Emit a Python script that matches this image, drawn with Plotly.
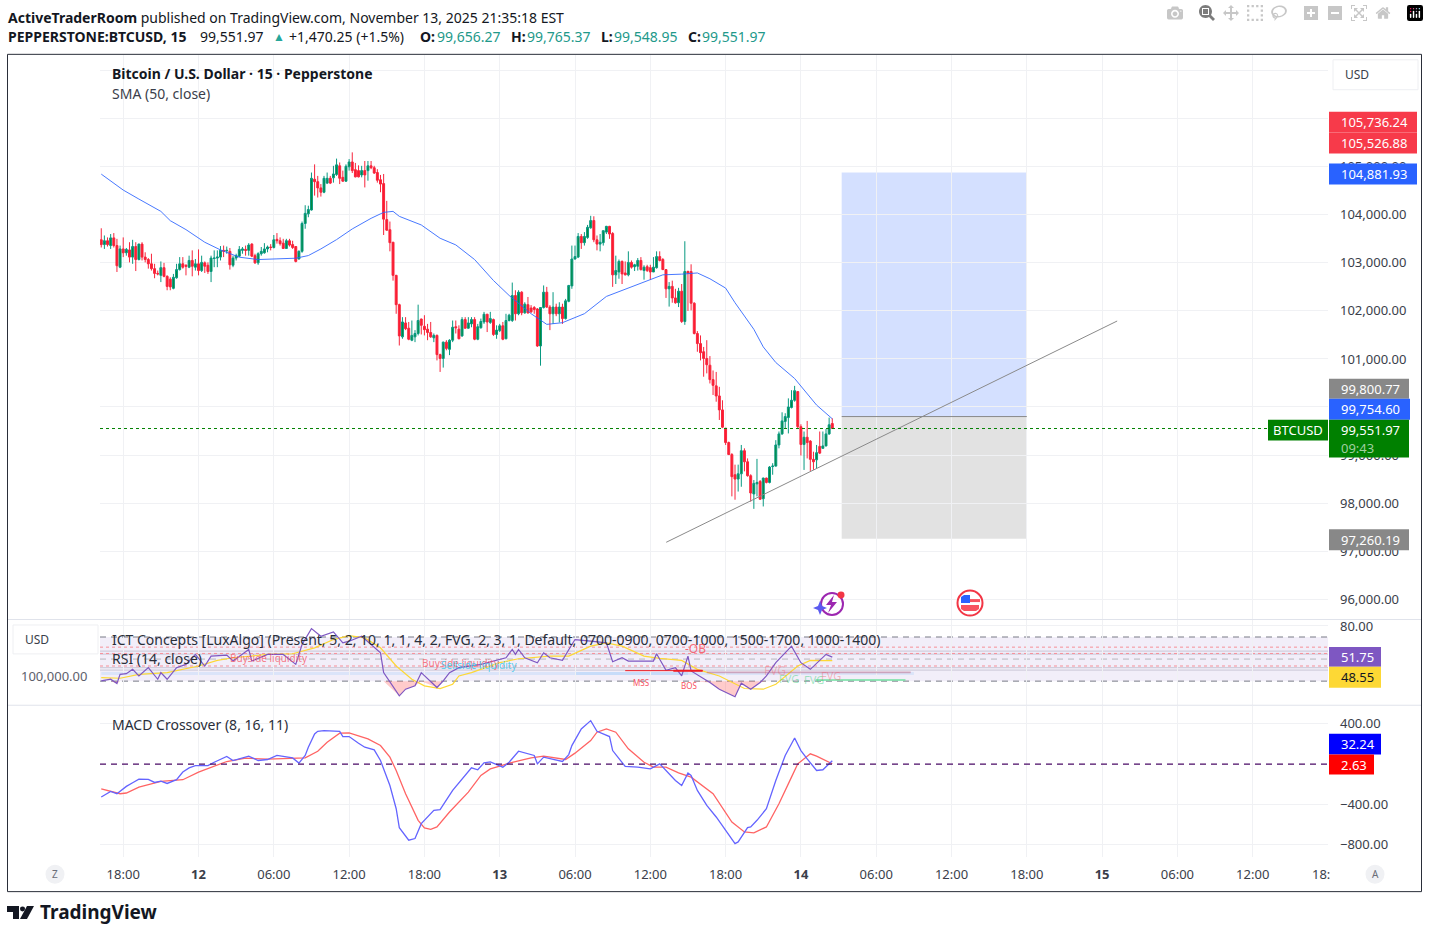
"""BTCUSD 15m TradingView snapshot: candles + SMA, RSI pane and MACD pane."""

import pandas as pd
import plotly.graph_objects as go

W, H = 1429, 935
FONT = "Noto Sans"
TEXT = "#131722"
UP_WICK, UP_BODY = "#089981", "#008a3c"
DOWN_WICK, DOWN_BODY = "#f7253c", "#ff1a2e"

# Candles, 15 minute bars
opens = [
    103480, 103380, 103460, 103360, 103520, 103360, 102910, 103290, 103210, 103270,
    103120, 103340, 103070, 103390, 103120, 103070, 102980, 102880, 102780, 102740,
    102900, 102720, 102660, 102470, 102690, 102860, 102980, 102950, 102910, 103050,
    102910, 102980, 102840, 103000, 102950, 102820, 103090, 103100, 103120, 103260, 103250,
    103240, 102950, 103100, 103140, 103260, 103280, 103260, 103390, 103150, 103000,
    103190, 103210, 103290, 103330, 103320, 103490, 103460, 103410, 103300, 103460,
    103380, 103340, 103080, 103240, 103820, 104020, 104100, 104740, 104690, 104560,
    104470, 104660, 104760, 104770, 104840, 105020, 104780, 104700, 105000, 105100,
    104940, 104920, 104830, 104920, 104920, 105020, 104980, 104880, 104730, 104650,
    103900, 103690, 103430, 102740, 102130, 101460, 101750, 101640, 101390, 101460, 101530,
    101830, 101680, 101620, 101550, 101440, 101490, 101090, 101010, 101350, 101200,
    101390, 101670, 101620, 101480, 101820, 101640, 101730, 101820, 101410, 101650,
    101770, 101930, 101760, 101820, 101510, 101590, 101690, 101420, 101800, 101800,
    102320, 101940, 102390, 101960, 102130, 102060, 102070, 102040, 101270, 102070,
    102390, 102080, 101940, 102080, 101940, 102080, 101840, 102200, 102520, 103080,
    103120, 103550, 103420, 103530, 103730, 103880, 103480, 103390, 103420, 103640,
    103760, 103610, 102750, 102810, 103030, 102790, 102750, 103010, 102920, 102930,
    103050, 102840, 102920, 102900, 102810, 102900, 103130,
    103070, 102860, 102460, 102510, 102270, 102170, 102410, 101780, 102820, 102820,
    102160, 101530, 101320, 101150, 101010, 100870, 100570, 100440, 100230, 99940,
    99560, 99260, 99010, 98590, 98500, 98610, 99090, 98860, 98570, 98190,
    98400, 98450, 98090, 98520, 98430, 98760, 98770, 99210, 99440, 99700,
    99780, 99990, 100140, 100320, 99590, 99220, 99370, 99290, 98910, 98900,
    99180, 99140, 99190, 99440, 99656.27,
]
highs = [
    103720, 103570, 103530, 103600, 103620, 103500, 103360, 103530, 103310, 103430,
    103480, 103430, 103400, 103430, 103220, 103100, 103190, 102980, 102840, 103030,
    103000, 102740, 102700, 102770, 102980, 103120, 103120, 102970, 103150, 103260,
    103080, 103280, 103150, 103030, 103010, 103150, 103260, 103260, 103350, 103360, 103340,
    103310, 103150, 103190, 103350, 103330, 103360, 103410, 103410, 103190, 103220,
    103330, 103410, 103360, 103390, 103580, 103620, 103530, 103500, 103500, 103500,
    103460, 103350, 103260, 103860, 104200, 104190, 104880, 105050, 104810, 104640,
    104810, 104880, 104810, 105020, 105170, 105090, 104920, 105050, 105160, 105300,
    105080, 105030, 105020, 105120, 105120, 105120, 105020, 104950, 104830, 104850,
    104290, 103860, 103430, 102750, 102150, 101870, 101870, 101770, 101800, 101600, 102130,
    101840, 101910, 101730, 101770, 101530, 101510, 101110, 101360, 101390, 101410,
    101800, 101800, 101700, 101870, 101870, 101870, 101870, 101870, 101730, 101840,
    101980, 101940, 101980, 101840, 101700, 101730, 101770, 101940, 101940, 102590,
    102430, 102430, 102410, 102180, 102290, 102120, 102100, 102060, 102080, 102530,
    102500, 102120, 102390, 102150, 102180, 102150, 102250, 102540, 103360, 103360,
    103620, 103600, 103640, 103790, 103980, 103970, 103570, 103600, 103670, 103770,
    103770, 103640, 103150, 103070, 103050, 103030, 103240, 103050, 102980, 103100,
    103120, 102950, 102960, 102960, 103120, 103240, 103240,
    103100, 102870, 102600, 102630, 102460, 102480, 102560, 103450, 102840, 102970,
    102180, 101580, 101490, 101250, 101390, 101060, 100760, 100730, 100420, 100140,
    99560, 99280, 99040, 98800, 98800, 99210, 99140, 98930, 98600, 98480,
    98920, 98480, 98530, 98530, 98770, 98830, 99310, 99490, 99890, 99870,
    100180, 100350, 100440, 100330, 99640, 99490, 99710, 99310, 99070, 99210,
    99490, 99490, 99540, 99780, 99765.37,
]
lows = [
    103320, 103290, 103340, 103290, 103320, 102810, 102890, 103120, 103150, 103010,
    102980, 102830, 103050, 103050, 103010, 102880, 102840, 102680, 102740, 102600,
    102700, 102430, 102430, 102450, 102670, 102840, 102880, 102740, 102890, 102720,
    102840, 102740, 102810, 102790, 102770, 102600, 102910, 102910, 103050, 103120, 103190,
    102860, 102910, 103050, 103120, 103190, 103150, 103150, 103120, 102980, 102960,
    103150, 103190, 103220, 103260, 103300, 103400, 103360, 103290, 103290, 103340,
    103290, 103010, 103070, 103210, 103710, 103950, 104090, 104400, 104360, 104380,
    104450, 104640, 104640, 104670, 104810, 104640, 104690, 104690, 104920, 104870,
    104780, 104780, 104780, 104570, 104710, 104950, 104850, 104670, 104470, 103580,
    103670, 103240, 102630, 101940, 101280, 101420, 101600, 101390, 101370, 101350, 101490,
    101510, 101490, 101390, 101440, 101350, 100970, 100730, 100820, 101180, 101080,
    101350, 101530, 101410, 101460, 101630, 101630, 101660, 101390, 101390, 101630,
    101730, 101560, 101730, 101480, 101420, 101560, 101390, 101410, 101780, 101770,
    101800, 101910, 101910, 101940, 101940, 101960, 101940, 101250, 100860, 102050,
    102060, 101600, 101730, 101890, 101760, 101730, 101820, 102180, 102460, 103070,
    103100, 103290, 103360, 103500, 103710, 103430, 103260, 103240, 103360, 103600,
    103500, 102500, 102560, 102670, 102560, 102740, 102720, 102880, 102830, 102840,
    102840, 102650, 102810, 102650, 102810, 102880, 103030,
    102850, 102270, 102090, 102170, 102150, 102080, 101750, 101710, 102000, 102010,
    101510, 101150, 100970, 100630, 100700, 100490, 100250, 100110, 99730, 99560,
    99210, 99000, 98140, 98070, 98240, 98340, 98660, 98550, 98030, 97880,
    98140, 98070, 97930, 98410, 98410, 98590, 98760, 99140, 99420, 99560,
    99450, 99970, 100110, 99560, 98990, 98690, 98930, 98670, 98690, 98730,
    99020, 99130, 99180, 99420, 99548.95,
]
closes = [
    103380, 103460, 103380, 103520, 103360, 102940, 103290, 103210, 103280, 103120,
    103340, 103070, 103390, 103120, 103070, 102980, 102880, 102780, 102770, 102900,
    102720, 102510, 102500, 102700, 102860, 102980, 102910, 102930, 103050, 102930,
    102980, 102840, 103010, 102930, 102820, 103100, 103100, 103120, 103260, 103240, 103260,
    102960, 103100, 103150, 103280, 103290, 103260, 103370, 103140, 103000, 103190,
    103240, 103290, 103330, 103320, 103480, 103460, 103400, 103300, 103460, 103370,
    103320, 103030, 103240, 103820, 104030, 104110, 104760, 104690, 104560, 104470,
    104760, 104760, 104660, 104850, 105040, 104760, 104700, 105010, 105100, 104920,
    104790, 104790, 104920, 104830, 105020, 104980, 104870, 104720, 104640, 103910,
    103680, 103420, 102740, 102130, 101480, 101770, 101630, 101410, 101490, 101530, 101800,
    101700, 101610, 101550, 101460, 101490, 101090, 101010, 101350, 101220, 101390,
    101660, 101650, 101420, 101820, 101640, 101750, 101820, 101410, 101670, 101780,
    101930, 101770, 101840, 101510, 101600, 101690, 101410, 101800, 101910, 102320,
    101940, 102390, 101960, 102140, 101960, 101980, 102030, 101270, 102070, 102390,
    102080, 101940, 102080, 101940, 102080, 101840, 102210, 102530, 103080, 103130,
    103550, 103420, 103550, 103740, 103880, 103480, 103390, 103430, 103670, 103760,
    103600, 102750, 102840, 103030, 102770, 102750, 103010, 102910, 102960, 103050,
    102860, 102910, 102840, 102810, 102910, 103130, 103050,
    102860, 102460, 102510, 102270, 102170, 102410, 101780, 102820, 102790, 102160,
    101530, 101320, 101130, 101010, 100880, 100570, 100450, 100230, 99940, 99580,
    99260, 99010, 98550, 98500, 98610, 99090, 98860, 98570, 98210, 98410,
    98430, 98080, 98520, 98430, 98750, 98770, 99210, 99440, 99710, 99800,
    100000, 100140, 100340, 99590, 99220, 99370, 99260, 98910, 98860, 99050,
    99040, 99190, 99440, 99630, 99551.97,
]

# SMA 50, read at the bends only
sma_bars = [0, 7, 12, 19, 22, 27, 33, 38, 44, 50, 56, 62, 66, 70, 75, 80, 86, 90, 93, 95, 102,
            108, 113, 119, 125, 130, 137, 142, 147, 154, 161, 168, 174, 179, 185, 190, 194,
            199, 202, 204, 208, 211, 215, 221, 225, 228, 233]
sma_vals = [104847, 104515, 104328, 104072, 103878, 103692, 103429, 103270, 103118, 103069,
            103083, 103097, 103152, 103290, 103484, 103706, 103927, 104051, 104072, 103968, 103789,
            103512, 103374, 103069, 102633, 102322, 101942, 101720, 101755, 101942, 102301,
            102474, 102620, 102751, 102765, 102790, 102669, 102475, 102170, 101977, 101617,
            101251, 100926, 100593, 100282, 100040, 99754.6]

# RSI pane
rsi_bars = [0, 3, 5, 6, 8, 10, 12, 15, 18, 19, 21, 24, 27, 30, 33, 35, 40, 42, 47, 48, 53, 58, 62,
            64, 67, 70, 74, 77, 79, 83, 89, 90, 95, 97, 100, 102, 107, 109, 111, 114, 121, 129, 131,
            132, 133, 135, 139, 141, 143, 147, 150, 151, 156, 161, 163, 166, 168, 176, 177, 180,
            183, 185, 187, 188, 194, 197, 202, 204, 207, 210, 212, 215, 220, 223, 226, 231, 233]
rsi_vals = [30.2, 31.7, 27.8, 36.2, 36.8, 40.7, 34.7, 42.2, 31.7, 37.7, 31.7, 42.2, 45.2, 54.2,
            43.7, 52.7, 53.6, 48.2, 58.7, 48.2, 54.2, 54.2, 45.2, 63.2, 77.6, 70.7, 74.6, 64.7,
            66.2, 70.7, 55.7, 37.7, 16.7, 22.7, 25.7, 37.7, 24.2, 30.2, 37.7, 42.2, 45.2, 51.2,
            58.7, 54.2, 58.7, 51.2, 46.7, 55.7, 51.2, 48.8, 63.2, 67.7, 66.2, 64.7, 47.6, 51.2,
            48.2, 48.2, 54.8, 39.8, 42.2, 34.7, 52.7, 39.2, 28.7, 22.7, 15.8, 28.1, 22.7, 28.7,
            34.7, 46.7, 61.7, 46.7, 40.7, 54.2, 51.75]
rsi_ma_bars = [0, 6, 12, 21, 31, 37, 42, 53, 61, 68, 74, 79, 84, 89, 94, 99, 103, 108, 112, 114,
               118, 127, 133, 143, 149, 156, 161, 166, 173, 178, 185, 190, 197, 202, 205, 211, 215,
               222, 226, 233]
rsi_ma_vals = [33.2, 32.6, 36.2, 37.7, 43.7, 48.8, 51.2, 54.2, 54.8, 60.2, 67.7, 71.3, 69.2, 60.2,
               43.7, 31.7, 25.7, 23.3, 27.2, 34.7, 37.7, 46.7, 50.3, 52.7, 52.7, 61.7, 64.7, 61.7,
               52.7, 50.6, 48.8, 40.7, 34.7, 27.2, 23.3, 22.7, 27.2, 43.7, 48.8, 48.55]
rsi_dotted_levels = [60.8, 55.1, 43.7]
rsi_gray_levels = [57.2, 54.5, 42.2, 40.0]

# MACD pane
macd_bars = [0, 3, 5, 8, 10, 12, 15, 17, 19, 21, 24, 26, 28, 30, 34, 36, 40, 42, 47, 50, 53, 56,
             61, 63, 65, 66, 68, 69, 71, 76, 77, 79, 82, 84, 87, 89, 92, 94, 95, 98, 100, 102, 106,
             108, 112, 115, 118, 120, 122, 124, 127, 128, 130, 133, 138, 139, 141, 147, 149, 150,
             153, 156, 158, 162, 163, 165, 167, 171, 175, 178, 183, 185, 187, 188, 190, 193, 196,
             202, 203, 206, 207, 209, 212, 215, 218, 221, 223, 225, 228, 230, 232, 233]
macd_vals = [-328, -272, -295, -222, -186, -150, -153, -183, -170, -193, -156, -80, -38, -15, -15,
             18, 75, 35, 78, 35, 45, 85, 61, 9, 85, 167, 299, 325, 332, 325, 273, 273, 207, 167,
             141, 35, -213, -444, -632, -757, -740, -592, -460, -453, -262, -147, -38, -57, 12, 22,
             -15, -31, 18, 127, 85, 2, 68, 25, 94, 183, 348, 431, 325, 273, 134, 51, -24, -31, -48,
             2, -163, -213, -90, -113, -262, -411, -526, -790, -774, -632, -625, -559, -444, -163,
             85, 259, 134, 51, -64, -57, 9, 32.24]
signal_bars = [0, 6, 8, 12, 19, 26, 31, 36, 40, 46, 53, 65, 69, 72, 76, 79, 85, 89, 92, 94, 97,
               101, 103, 105, 107, 111, 117, 121, 124, 127, 130, 137, 141, 148, 151, 156, 158, 161,
               164, 168, 173, 176, 180, 184, 188, 195, 201, 205, 208, 212, 216, 220, 222, 226, 228,
               233]
signal_vals = [-246, -295, -288, -229, -173, -156, -80, -24, 25, 58, 48, 61, 127, 216, 306, 309,
               250, 184, 68, -64, -295, -559, -635, -648, -625, -477, -279, -113, -48, -21, 9, 61,
               78, 45, 108, 233, 316, 349, 316, 151, 18, -31, -31, -87, -130, -295, -576, -675,
               -684, -625, -394, -130, 2, 101, 78, 2.63]

# Axis ticks
tick_times = ["2025-11-11 18:00", "2025-11-12 00:00", "2025-11-12 06:00", "2025-11-12 12:00",
              "2025-11-12 18:00", "2025-11-13 00:00", "2025-11-13 06:00", "2025-11-13 12:00",
              "2025-11-13 18:00", "2025-11-14 00:00", "2025-11-14 06:00", "2025-11-14 12:00",
              "2025-11-14 18:00", "2025-11-15 00:00", "2025-11-15 06:00", "2025-11-15 12:00"]
tick_labels = ["18:00", "<b>12</b>", "06:00", "12:00", "18:00", "<b>13</b>", "06:00", "12:00",
               "18:00", "<b>14</b>", "06:00", "12:00", "18:00", "<b>15</b>", "06:00", "12:00"]
price_ticks = [96000, 97000, 98000, 99000, 100000, 101000, 102000, 103000, 104000, 105000, 106000, 107000]
macd_ticks = [400, -400, -800]
macd_tick_labels = ["400.00", "\u2212400.00", "\u2212800.00"]

# Long position drawing and trend line
position_start, position_end = "2025-11-14 03:15", "2025-11-14 18:00"
target_price, entry_price, stop_price = 104881.93, 99800.77, 97260.19
trend_times = ["2025-11-13 13:16", "2025-11-15 01:12"]
trend_prices = [97184, 101790]
last_price = 99551.97

t0 = pd.Timestamp("2025-11-11 16:15")
bar_times = pd.date_range(t0, periods=len(closes), freq="15min")


def at_bars(bars):
    return [t0 + pd.Timedelta(minutes=15 * b) for b in bars]


def xp(px):
    return px / W


def yp(py):
    return 1 - py / H


def pane_rows(top, bottom):
    return [yp(bottom), yp(top)]


fig = go.Figure()


def add_text(px, py, text, size=14, color=TEXT, anchor="left", font=FONT):
    fig.add_annotation(xref="paper", yref="paper", x=xp(px), y=yp(py), text=text, showarrow=False,
                       xanchor=anchor, yanchor="middle", align=anchor, borderpad=0,
                       font=dict(family=font, size=size, color=color))


def add_box(x0, y0, x1, y1, fill, line=None, layer="above"):
    fig.add_shape(type="rect", xref="paper", yref="paper", x0=xp(x0), x1=xp(x1), y0=yp(y0), y1=yp(y1),
                  fillcolor=fill, line=dict(color=line or fill, width=1 if line else 0), layer=layer)


def add_path(points, fill="rgba(0,0,0,0)", line=None, width=1, close=True):
    d = "M" + " L".join(f"{xp(a):.5f},{yp(b):.5f}" for a, b in points) + (" Z" if close else "")
    fig.add_shape(type="path", path=d, xref="paper", yref="paper", fillcolor=fill,
                  line=dict(color=line or fill, width=width if line else 0), layer="above")


def add_circle(cx, cy, r, fill="rgba(0,0,0,0)", line=None, width=1):
    fig.add_shape(type="circle", xref="paper", yref="paper", x0=xp(cx - r), x1=xp(cx + r),
                  y0=yp(cy + r), y1=yp(cy - r), fillcolor=fill,
                  line=dict(color=line or fill, width=width if line else 0), layer="above")


def price_tag(x0, x1, y0, y1, fill, text, color="#ffffff", text_x=None):
    add_box(x0, y0, x1, y1, fill)
    add_text(text_x or x0 + 11, (y0 + y1) / 2, text, size=13, color=color)


# Main pane
fig.add_trace(go.Candlestick(
    x=bar_times, open=opens, high=highs, low=lows, close=closes, whiskerwidth=0,
    increasing=dict(line=dict(color=UP_WICK, width=1), fillcolor=UP_BODY),
    decreasing=dict(line=dict(color=DOWN_WICK, width=1), fillcolor=DOWN_BODY),
    showlegend=False, xaxis="x", yaxis="y"))
fig.add_trace(go.Scatter(x=at_bars(sma_bars), y=sma_vals, mode="lines", showlegend=False,
                         line=dict(color="#2962ff", width=1), opacity=0.85, xaxis="x", yaxis="y"))
fig.add_trace(go.Scatter(x=trend_times, y=trend_prices, mode="lines", showlegend=False,
                         line=dict(color="#8a8a8a", width=1), xaxis="x", yaxis="y"))

fig.add_shape(type="rect", xref="x", yref="y", x0=position_start, x1=position_end, y0=entry_price,
              y1=target_price, fillcolor="rgba(41,98,255,0.2)", line_width=0, layer="below")
fig.add_shape(type="rect", xref="x", yref="y", x0=position_start, x1=position_end, y0=stop_price,
              y1=entry_price, fillcolor="rgba(0,0,0,0.115)", line_width=0, layer="below")
fig.add_shape(type="line", xref="x", yref="y", x0=position_start, x1=position_end, y0=entry_price,
              y1=entry_price, line=dict(color="#888888", width=1))
fig.add_shape(type="line", xref="x domain", yref="y", x0=0, x1=1, y0=last_price, y1=last_price,
              line=dict(color="#008000", width=1, dash="dot"))

# RSI pane
fig.add_shape(type="rect", xref="x2 domain", yref="y2", x0=0, x1=1, y0=30, y1=70,
              fillcolor="rgba(126,87,194,0.1)", line_width=0, layer="below")
for level in rsi_gray_levels:
    fig.add_shape(type="line", xref="x2 domain", yref="y2", x0=0, x1=1, y0=level, y1=level,
                  line=dict(color="#c9c7d6", width=1), layer="below")
for level in rsi_dotted_levels:
    fig.add_shape(type="line", xref="x2 domain", yref="y2", x0=0, x1=1, y0=level, y1=level,
                  line=dict(color="#f78f98", width=1, dash="dot"), layer="below")
for level, colour in [(70, "#787b86"), (50, "#b5b6bd"), (30, "#787b86")]:
    fig.add_shape(type="line", xref="x2 domain", yref="y2", x0=0, x1=1, y0=level, y1=level,
                  line=dict(color=colour, width=1, dash="6px,5px"), layer="below")
fig.add_shape(type="rect", xref="x2", yref="y2", x0="2025-11-11 16:15", x1="2025-11-13 15:00", y0=35.6, y1=38.3,
              fillcolor="rgba(100,181,246,0.16)", line_width=0, layer="below")
fig.add_shape(type="rect", xref="x2", yref="y2", x0="2025-11-13 06:00", x1="2025-11-14 09:00", y0=35.6, y1=38.3,
              fillcolor="rgba(100,181,246,0.16)", line_width=0, layer="below")
fig.add_shape(type="rect", xref="x2", yref="y2", x0="2025-11-13 16:30", x1="2025-11-14 08:45", y0=37.2, y1=38.8,
              fillcolor="rgba(190,110,140,0.55)", line_width=0)
fig.add_shape(type="line", xref="x2", yref="y2", x0="2025-11-13 10:00", x1="2025-11-13 16:10", y0=39.5, y1=39.5,
              line=dict(color="#ee1c25", width=1))
fig.add_shape(type="line", xref="x2", yref="y2", x0="2025-11-13 13:50", x1="2025-11-13 16:10", y0=39.5, y1=39.5,
              line=dict(color="#ee1c25", width=2))
fig.add_shape(type="line", xref="x2", yref="y2", x0="2025-11-14 01:10", x1="2025-11-14 08:20", y0=31, y1=31,
              line=dict(color="#72e0a0", width=1.5))

rsi_times = at_bars(rsi_bars)
fig.add_trace(go.Scatter(x=rsi_times, y=[30] * len(rsi_bars), mode="lines", line=dict(width=0),
                         showlegend=False, hoverinfo="skip", xaxis="x2", yaxis="y2"))
fig.add_trace(go.Scatter(x=rsi_times, y=[min(v, 30) for v in rsi_vals], mode="lines", line=dict(width=0),
                         fill="tonexty", fillcolor="rgba(255,82,82,0.3)", showlegend=False,
                         hoverinfo="skip", xaxis="x2", yaxis="y2"))
fig.add_trace(go.Scatter(x=at_bars(rsi_ma_bars), y=rsi_ma_vals, mode="lines", showlegend=False,
                         line=dict(color="#fdd835", width=1.2), xaxis="x2", yaxis="y2"))
fig.add_trace(go.Scatter(x=rsi_times, y=rsi_vals, mode="lines", showlegend=False,
                         line=dict(color="#7e57c2", width=1.2), xaxis="x2", yaxis="y2"))

# MACD pane
fig.add_shape(type="line", xref="x3 domain", yref="y3", x0=0, x1=1, y0=0, y1=0,
              line=dict(color="#4a0a66", width=1.2, dash="6px,5px"))
fig.add_trace(go.Scatter(x=at_bars(signal_bars), y=signal_vals, mode="lines", showlegend=False,
                         line=dict(color="#ff6464", width=1.3), xaxis="x3", yaxis="y3"))
fig.add_trace(go.Scatter(x=at_bars(macd_bars), y=macd_vals, mode="lines", showlegend=False,
                         line=dict(color="#6464ff", width=1.3), xaxis="x3", yaxis="y3"))

x_common = dict(type="date", range=["2025-11-11 16:09", "2025-11-15 18:00"], domain=[xp(100), xp(1328)],
                tickmode="array", tickvals=tick_times, ticktext=tick_labels, showgrid=True,
                gridcolor="#f0f1f4", gridwidth=1, zeroline=False, showline=False, ticks="")
y_common = dict(side="right", showgrid=True, gridcolor="#f0f1f4", gridwidth=1, zeroline=False, showline=False,
                ticks="", ticklabelstandoff=11, tickmode="array",
                tickfont=dict(family=FONT, size=13, color="#3a3e4a"))

fig.update_layout(
    width=W, height=H, margin=dict(l=0, r=0, t=0, b=0), paper_bgcolor="#ffffff", plot_bgcolor="#ffffff",
    showlegend=False, boxgap=0.12, hovermode=False,
    xaxis=dict(**x_common, anchor="y", showticklabels=False, rangeslider=dict(visible=False)),
    xaxis2=dict(**x_common, anchor="y2", matches="x", showticklabels=False),
    xaxis3=dict(**x_common, anchor="y3", matches="x", showticklabels=True, ticklabelstandoff=8,
                tickfont=dict(family=FONT, size=13, color="#3a3e4a")),
    yaxis=dict(**y_common, anchor="x", domain=pane_rows(52, 618), range=[95587, 107330],
               tickvals=price_ticks, tickformat=",.2f"),
    yaxis2=dict(**y_common, anchor="x2", domain=pane_rows(619, 704), range=[8.6, 85.4],
                tickvals=[80], tickformat=".2f"),
    yaxis3=dict(**y_common, anchor="x3", domain=pane_rows(705, 857), range=[-926, 579],
                tickvals=macd_ticks, ticktext=macd_tick_labels),
)

# Frame and pane separators
fig.add_shape(type="rect", xref="paper", yref="paper", x0=xp(7.5), x1=xp(1421.5), y0=yp(891.5), y1=yp(51.5),
              line=dict(color="#2a2e39", width=1), layer="above")
for sep in (618.5, 704.5):
    fig.add_shape(type="line", xref="paper", yref="paper", x0=xp(8), x1=xp(1421), y0=yp(sep), y1=yp(sep),
                  line=dict(color="#e0e3eb", width=1), layer="above")

# Header
add_text(7, 15, "<b>ActiveTraderRoom</b> published on TradingView.com, November 13, 2025 21:35:18 EST")
add_text(7, 34, "<b>PEPPERSTONE:BTCUSD, 15</b>")
add_text(199, 34, "99,551.97")
add_text(272, 34, "\u25b2", size=12, color="#26a69a")
add_text(288, 34, "+1,470.25 (+1.5%)")
for px, txt in [(419, "O:"), (510, "H:"), (600, "L:"), (687, "C:")]:
    add_text(px, 34, f"<b>{txt}</b>")
for px, txt in [(436, "99,656.27"), (526, "99,765.37"), (613, "99,548.95"), (701, "99,551.97")]:
    add_text(px, 34, txt, color="#22998a")

# Pane titles
add_text(111, 71, "<b>Bitcoin / U.S. Dollar \u00b7 15 \u00b7 Pepperstone</b>")
add_text(111, 91, "SMA (50, close)", color="#3a3e4a")
add_text(111, 639, "ICT Concepts [LuxAlgo] (Present, 5, 2, 10, 1, 1, 4, 2, FVG, 2, 3, 1, Default, "
                   "0700-0900, 0700-1000, 1500-1700, 1000-1400)", color="#2a2e39")
add_text(111, 658, "RSI (14, close)", color="#2a2e39")
add_text(111, 724, "MACD Crossover (8, 16, 11)", color="#2a2e39")

# ICT labels
add_text(229, 657, "Buyside liquidity", size=10, color="rgba(247,82,95,0.75)")
add_text(421, 662, "Buyside liquidity", size=10, color="rgba(247,82,95,0.75)")
add_text(440, 664, "Sellside liquidity", size=10, color="rgba(60,200,235,0.85)")
add_text(684, 648, "-OB", size=12, color="rgba(247,82,95,0.85)")
add_text(632, 682, "MSS", size=8, color="#f7525f")
add_text(680, 685, "BOS", size=8, color="#f7525f")
add_text(763, 670, "FVG", size=12, color="rgba(247,82,95,0.35)")
add_text(778, 678, "FVG", size=11, color="rgba(50,205,120,0.45)")
add_text(803, 679, "FVG", size=11, color="rgba(50,205,120,0.45)")
add_text(820, 675, "FVG", size=11, color="rgba(247,82,95,0.4)")

# Price tags
price_tag(1329, 1417, 109, 130, "#f73a4a", "105,736.24")
price_tag(1329, 1417, 130, 151, "#f73a4a", "105,526.88")
price_tag(1329, 1417, 161, 182, "#2962ff", "104,881.93")
price_tag(1329, 1409, 377, 397, "#888888", "99,800.77")
price_tag(1329, 1410, 397, 418, "#2962ff", "99,754.60")
add_box(1329, 418, 1409, 456, "#008000")
add_text(1340, 428, "99,551.97", size=13, color="#ffffff")
add_text(1340, 446, "09:43", size=13, color="#9fcf9f")
price_tag(1268, 1328, 418, 439, "#008000", "BTCUSD", text_x=1272)
price_tag(1329, 1409, 528, 549, "#888888", "97,260.19")
price_tag(1329, 1381, 646, 666, "#7e57c2", "51.75")
price_tag(1329, 1381, 666, 687, "#fdd835", "48.55", color="#131722")
price_tag(1329, 1381, 733, 754, "#0000ff", "32.24")
price_tag(1329, 1374, 754, 774, "#ff0000", "2.63")

# Currency buttons, left axis remnant, corner buttons
add_box(1333, 57, 1418, 87, "#ffffff", line="#eeeff2")
add_text(1344, 72, "USD", size=12, color="#3a3e4a")
add_box(13, 624, 98, 653, "#ffffff", line="#eeeff2")
add_text(24, 639, "USD", size=12, color="#3a3e4a")
add_text(20, 675, "100,000.00", size=13, color="#5d606b")
add_text(1311, 874, "18:", size=13, color="#3a3e4a")
for cx, letter in [(55, "Z"), (1375, "A")]:
    add_circle(cx, 874, 9.5, fill="#f0f1f4")
    add_text(cx, 874, letter, size=10, color="#6a6d78", anchor="center")

# Event icons
add_circle(832, 603, 11, line="#9c27b0", width=2)
add_path([(834, 594), (826, 604), (831, 604), (828, 612), (837, 601), (832, 601)], fill="#9c27b0")
add_path([(820, 600), (822, 605), (827, 607), (822, 609), (820, 614), (818, 609), (813, 607), (818, 605)],
         fill="#5b5bf0")
add_circle(841, 594, 3.5, fill="#f23645")
add_circle(970, 602, 12.5, fill="#ffffff", line="#f23645", width=2)
add_path([(961, 604), (979, 604), (979, 608), (976, 610), (964, 610), (961, 608)], fill="#f7525f")
add_path([(970, 598), (980, 598), (980, 601), (970, 601)], fill="#f7525f")
add_path([(961, 596), (964, 594), (970, 594), (970, 602), (961, 602)], fill="#2962ff")

# TradingView mark
add_path([(7, 906), (19, 906), (19, 919), (13, 919), (13, 912), (7, 912)], fill="#131722")
add_circle(22.5, 909, 2.5, fill="#131722")
add_path([(27, 906), (34, 906), (27, 919), (20, 919)], fill="#131722")
add_text(39, 912, "<b>TradingView</b>", size=19, color="#131722")

fig.write_html("out.html", post_script="document.body.style.margin='0';document.documentElement.style.overflow='hidden';")
